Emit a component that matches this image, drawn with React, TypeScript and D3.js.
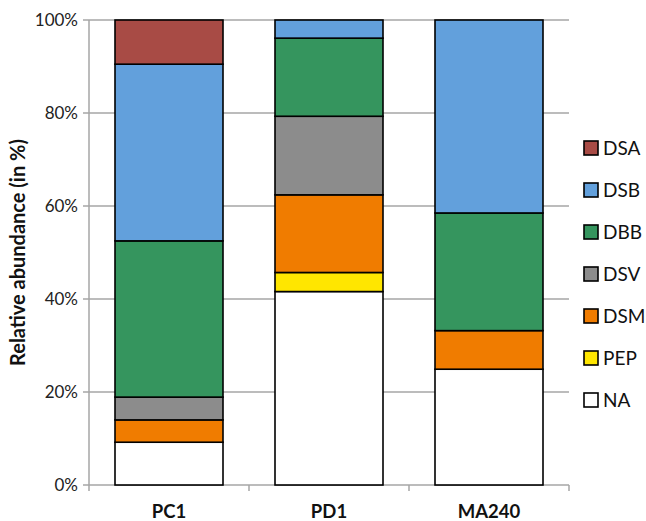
import React from "react";
import * as d3 from "d3";

const categories = ["PC1", "PD1", "MA240"];
const seriesNames = ["NA", "PEP", "DSM", "DSV", "DBB", "DSB", "DSA"];
const NA = [9.2, 41.6, 24.9];
const PEP = [0, 4.1, 0];
const DSM = [4.8, 16.7, 8.3];
const DSV = [4.9, 16.9, 0];
const DBB = [33.6, 16.8, 25.3];
const DSB = [38.0, 3.9, 41.5];
const DSA = [9.5, 0, 0];
const yTicks = [0, 20, 40, 60, 80, 100];
const legendOrder = ["DSA", "DSB", "DBB", "DSV", "DSM", "PEP", "NA"];
const colors: Record<string, string> = {
  NA: "#ffffff",
  PEP: "#ffe600",
  DSM: "#f07c00",
  DSV: "#8c8c8c",
  DBB: "#35955e",
  DSB: "#62a0dc",
  DSA: "#a84b45",
};

const seriesValues: Record<string, number[]> = { NA, PEP, DSM, DSV, DBB, DSB, DSA };

export default function App() {
  const W = 646, H = 521;
  const left = 89, right = 569, top = 20, bottom = 485;
  const x = d3.scaleBand<string>().domain(categories).range([left, right]).paddingInner(0.325).paddingOuter(0.1625);
  const y = d3.scaleLinear().domain([0, 100]).range([bottom, top]);
  const rows = categories.map((c, i) => {
    const r: any = { cat: c };
    seriesNames.forEach((s) => (r[s] = seriesValues[s][i]));
    return r;
  });
  const stacked = d3.stack<any>().keys(seriesNames)(rows);
  const font = "Lato, 'Open Sans', sans-serif";
  const gridColor = "#a6a6a6";
  const bandStep = (right - left) / categories.length;

  return (
    <svg width={W} height={H} style={{ position: "absolute", left: 0, top: 0, background: "#fff" }}>
      {yTicks.map((t) => (
        <g key={t}>
          {t > 0 && <line x1={left} x2={right} y1={y(t)} y2={y(t)} stroke={gridColor} strokeWidth={1.5} />}
          <line x1={left - 6} x2={left} y1={y(t)} y2={y(t)} stroke={gridColor} strokeWidth={1.5} />
          <text x={78} y={y(t)} dy="0.35em" textAnchor="end" fontFamily={font} fontSize={17} fill="#222">
            {t}%
          </text>
        </g>
      ))}
      <line x1={left} x2={left} y1={top} y2={bottom} stroke={gridColor} strokeWidth={1.5} />
      <line x1={left} x2={right} y1={bottom} y2={bottom} stroke={gridColor} strokeWidth={1.5} />
      {d3.range(categories.length + 1).map((i) => (
        <line key={i} x1={left + i * bandStep} x2={left + i * bandStep} y1={bottom} y2={bottom + 6} stroke={gridColor} strokeWidth={1.5} />
      ))}
      {stacked.map((layer) => (
        <g key={layer.key}>
          {layer.map((d, i) =>
            d[1] - d[0] > 0 ? (
              <rect
                key={i}
                x={x(categories[i])}
                width={x.bandwidth()}
                y={y(d[1])}
                height={y(d[0]) - y(d[1])}
                fill={colors[layer.key]}
                stroke="#000"
                strokeWidth={1.6}
              />
            ) : null
          )}
        </g>
      ))}
      {categories.map((c) => (
        <text key={c} x={(x(c) as number) + x.bandwidth() / 2} y={512} dy="0.35em" textAnchor="middle" fontFamily={font} fontWeight="bold" fontSize={18.5} fill="#111">
          {c}
        </text>
      ))}
      <text transform={`translate(25,${(top + bottom) / 2}) rotate(-90)`} textAnchor="middle" fontFamily={font} fontWeight="bold" fontSize={20} fill="#111">
        Relative abundance (in %)
      </text>
      {legendOrder.map((s, i) => {
        const cy = 148 + i * 42;
        return (
          <g key={s}>
            <rect x={584} y={cy - 7} width={14} height={14} fill={colors[s]} stroke="#000" strokeWidth={1.6} />
            <text x={603} y={cy} dy="0.36em" fontFamily={font} fontSize={19} fill="#111">
              {s}
            </text>
          </g>
        );
      })}
    </svg>
  );
}
